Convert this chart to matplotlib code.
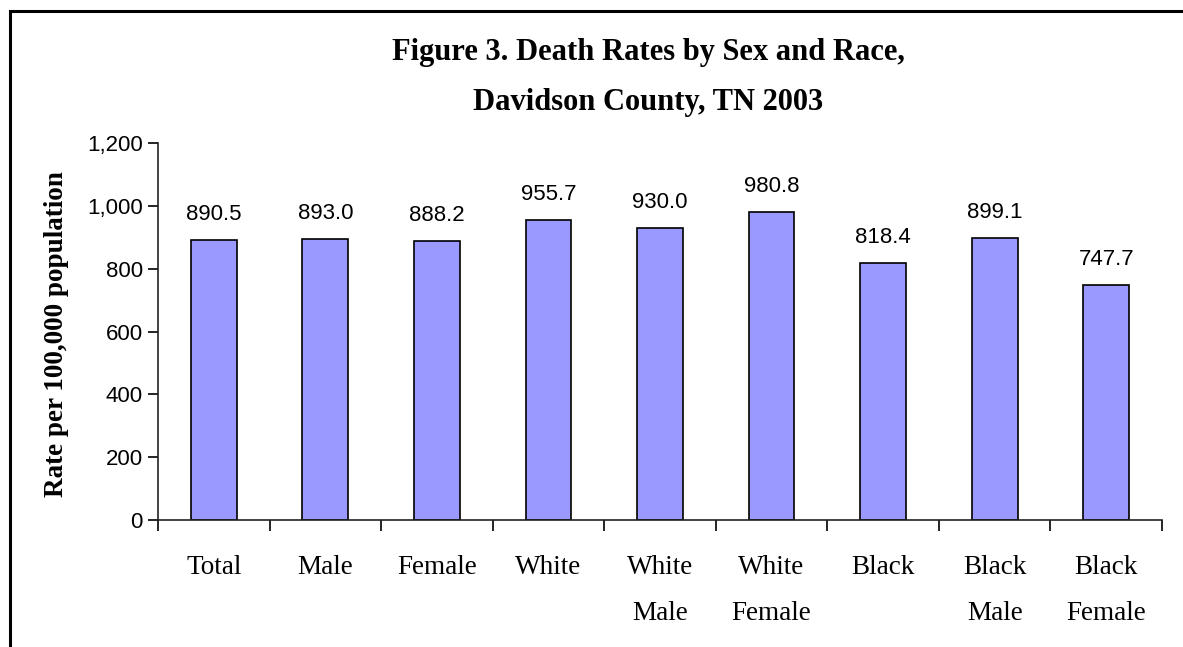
import matplotlib
matplotlib.use("Agg")
import matplotlib.pyplot as plt
from matplotlib.patches import Rectangle
from matplotlib.ticker import FuncFormatter

categories = ["Total", "Male", "Female", "White", "White\nMale", "White\nFemale",
              "Black", "Black\nMale", "Black\nFemale"]
rates = [890.5, 893.0, 888.2, 955.7, 930.0, 980.8, 818.4, 899.1, 747.7]
yticks = [0, 200, 400, 600, 800, 1000, 1200]

W, H = 1183, 647
fig = plt.figure(figsize=(W / 100, H / 100), dpi=100)
ax = fig.add_axes([158 / W, 1 - 520 / H, (1162 - 158) / W, (520 - 143) / H])

x = list(range(len(categories)))
ax.bar(x, rates, width=0.41, color="#9999FF", edgecolor="black", linewidth=1.2, zorder=2)
for xi, v in zip(x, rates):
    ax.annotate(f"{v:.1f}", (xi, v), xytext=(0, 14.4), textcoords="offset points",
                ha="center", va="baseline", fontsize=16, family="Liberation Sans")

ax.set_xlim(-0.5, len(categories) - 0.5)
ax.set_ylim(0, 1200)
ax.set_yticks(yticks)
ax.yaxis.set_major_formatter(FuncFormatter(lambda v, p: f"{int(v):,}"))
for lab in ax.get_yticklabels():
    lab.set_family("Liberation Sans")
    lab.set_fontsize(16)

ax.set_xticks([i - 0.5 for i in range(len(categories) + 1)])
ax.set_xticklabels([])
ax.set_xticks(x, minor=True)
ax.set_xticklabels(categories, minor=True, family="Liberation Serif", fontsize=19.5,
                   linespacing=2.1, va="top")
ax.tick_params(axis="x", which="minor", length=0, pad=25)
ax.tick_params(axis="x", which="major", length=8, width=1.2, direction="out")
ax.tick_params(axis="y", length=7, width=1.2, direction="out", pad=4)

for s in ["top", "right"]:
    ax.spines[s].set_visible(False)
for s in ["left", "bottom"]:
    ax.spines[s].set_linewidth(1.2)
    ax.spines[s].set_color("#222222")

fig.text(63 / W, 1 - 334 / H, "Rate per 100,000 population", rotation=90,
         rotation_mode="anchor", ha="center", va="baseline",
         family="Liberation Serif", fontweight="bold", fontsize=19.5)

fig.text(648 / W, 1 - 60 / H, "Figure 3. Death Rates by Sex and Race,",
         ha="center", va="baseline", family="Liberation Serif", fontweight="bold", fontsize=22)
fig.text(648 / W, 1 - 110 / H, "Davidson County, TN 2003",
         ha="center", va="baseline", family="Liberation Serif", fontweight="bold", fontsize=22)

border = Rectangle((10 / W, -0.1), 1.2, 1 - 10.5 / H + 0.1, transform=fig.transFigure,
                   fill=False, edgecolor="black", linewidth=2.2, clip_on=False)
fig.patches.append(border)

fig.savefig("out.png", dpi=100)
